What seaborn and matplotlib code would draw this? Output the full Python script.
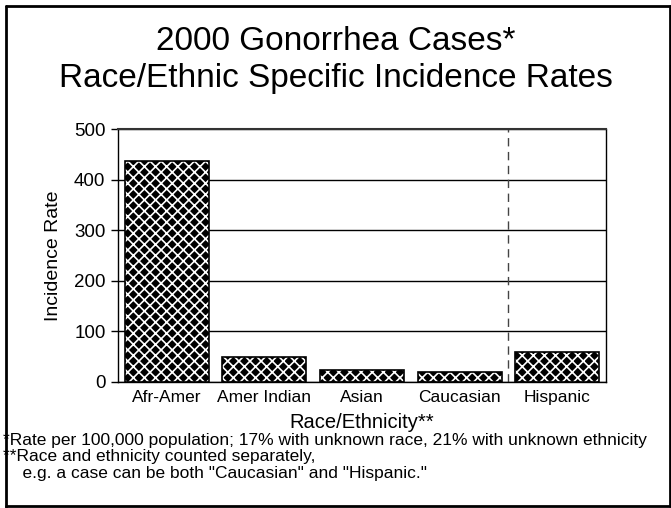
import matplotlib
matplotlib.use("Agg")
import matplotlib.pyplot as plt
import seaborn as sns
import numpy as np

categories = ["Afr-Amer", "Amer Indian", "Asian", "Caucasian", "Hispanic"]
rates = [437, 48, 23, 20, 59]
yticks = [0, 100, 200, 300, 400, 500]
title_lines = ["2000 Gonorrhea Cases*", "Race/Ethnic Specific Incidence Rates"]
footnotes = [
    "*Rate per 100,000 population; 17% with unknown race, 21% with unknown ethnicity",
    "**Race and ethnicity counted separately,",
    "    e.g. a case can be both \"Caucasian\" and \"Hispanic.\"",
]

sns.set_theme(style="white")
plt.rcParams["font.family"] = ["Liberation Sans", "DejaVu Sans"]
plt.rcParams["hatch.linewidth"] = 1.2

fig = plt.figure(figsize=(6.71, 5.08), dpi=100)
ax = fig.add_axes([118/671, 1-381.7/508, (606-118)/671, (381.7-129)/508])

bw = 0.86
sns.barplot(x=categories, y=rates, color="black", width=bw, ax=ax,
            saturation=1, linewidth=0, edgecolor="white", zorder=2)
for p in ax.patches:
    p.set_hatch("xxx")
    p.set_edgecolor("white")
    p.set_facecolor("black")
    p.set_linewidth(0)
# outlines
ax.bar(np.arange(len(categories)), rates, width=bw, fill=False,
       edgecolor="black", linewidth=1.2, zorder=3)

ax.set_xlim(-0.5, len(categories) - 0.5)
ax.set_ylim(0, 500)
ax.set_yticks(yticks)
ax.set_yticklabels([str(t) for t in yticks], fontsize=13.5)
ax.tick_params(axis="y", length=5, width=1, color="black", direction="out", pad=4, left=True)
ax.tick_params(axis="x", length=0, labelsize=12.5, pad=6)
for lab in ax.get_xticklabels() + ax.get_yticklabels():
    lab.set_color("black")

ax.yaxis.grid(True, color="black", linewidth=1)
ax.xaxis.grid(False)
ax.set_axisbelow(True)
for s in ["left", "right", "bottom", "top"]:
    ax.spines[s].set_visible(True)
    ax.spines[s].set_color("black")
    ax.spines[s].set_linewidth(1)
ax.spines["top"].set_color("#333333")
ax.spines["top"].set_linewidth(1.5)

ax.axvline(3.5, color="#444444", linewidth=1, linestyle=(0, (6, 4)), zorder=1)

ax.set_ylabel("Incidence Rate", fontsize=14, color="black", labelpad=9)
ax.set_xlabel("Race/Ethnicity**", fontsize=14.5, color="black", labelpad=6)

fig.text(0.5, 1 - 42/508, title_lines[0], ha="center", va="center", fontsize=24, color="black")
fig.text(0.5, 1 - 78/508, title_lines[1], ha="center", va="center", fontsize=24, color="black")

for i, line in enumerate(footnotes):
    fig.text(3/671, 1 - (440 + 16.8*i)/508, line, ha="left", va="center", fontsize=12.5, color="black")

# frame
fig.add_artist(plt.Line2D([6/671, 6/671], [0, 1-6/508], transform=fig.transFigure, color="black", lw=2))
fig.add_artist(plt.Line2D([6/671, 669.5/671], [1-6/508, 1-6/508], transform=fig.transFigure, color="black", lw=2))
fig.add_artist(plt.Line2D([669.5/671, 669.5/671], [1-6/508, 2/508], transform=fig.transFigure, color="black", lw=2))
fig.add_artist(plt.Line2D([6/671, 669.5/671], [2/508, 2/508], transform=fig.transFigure, color="black", lw=2))

fig.savefig("out.png", dpi=100)
